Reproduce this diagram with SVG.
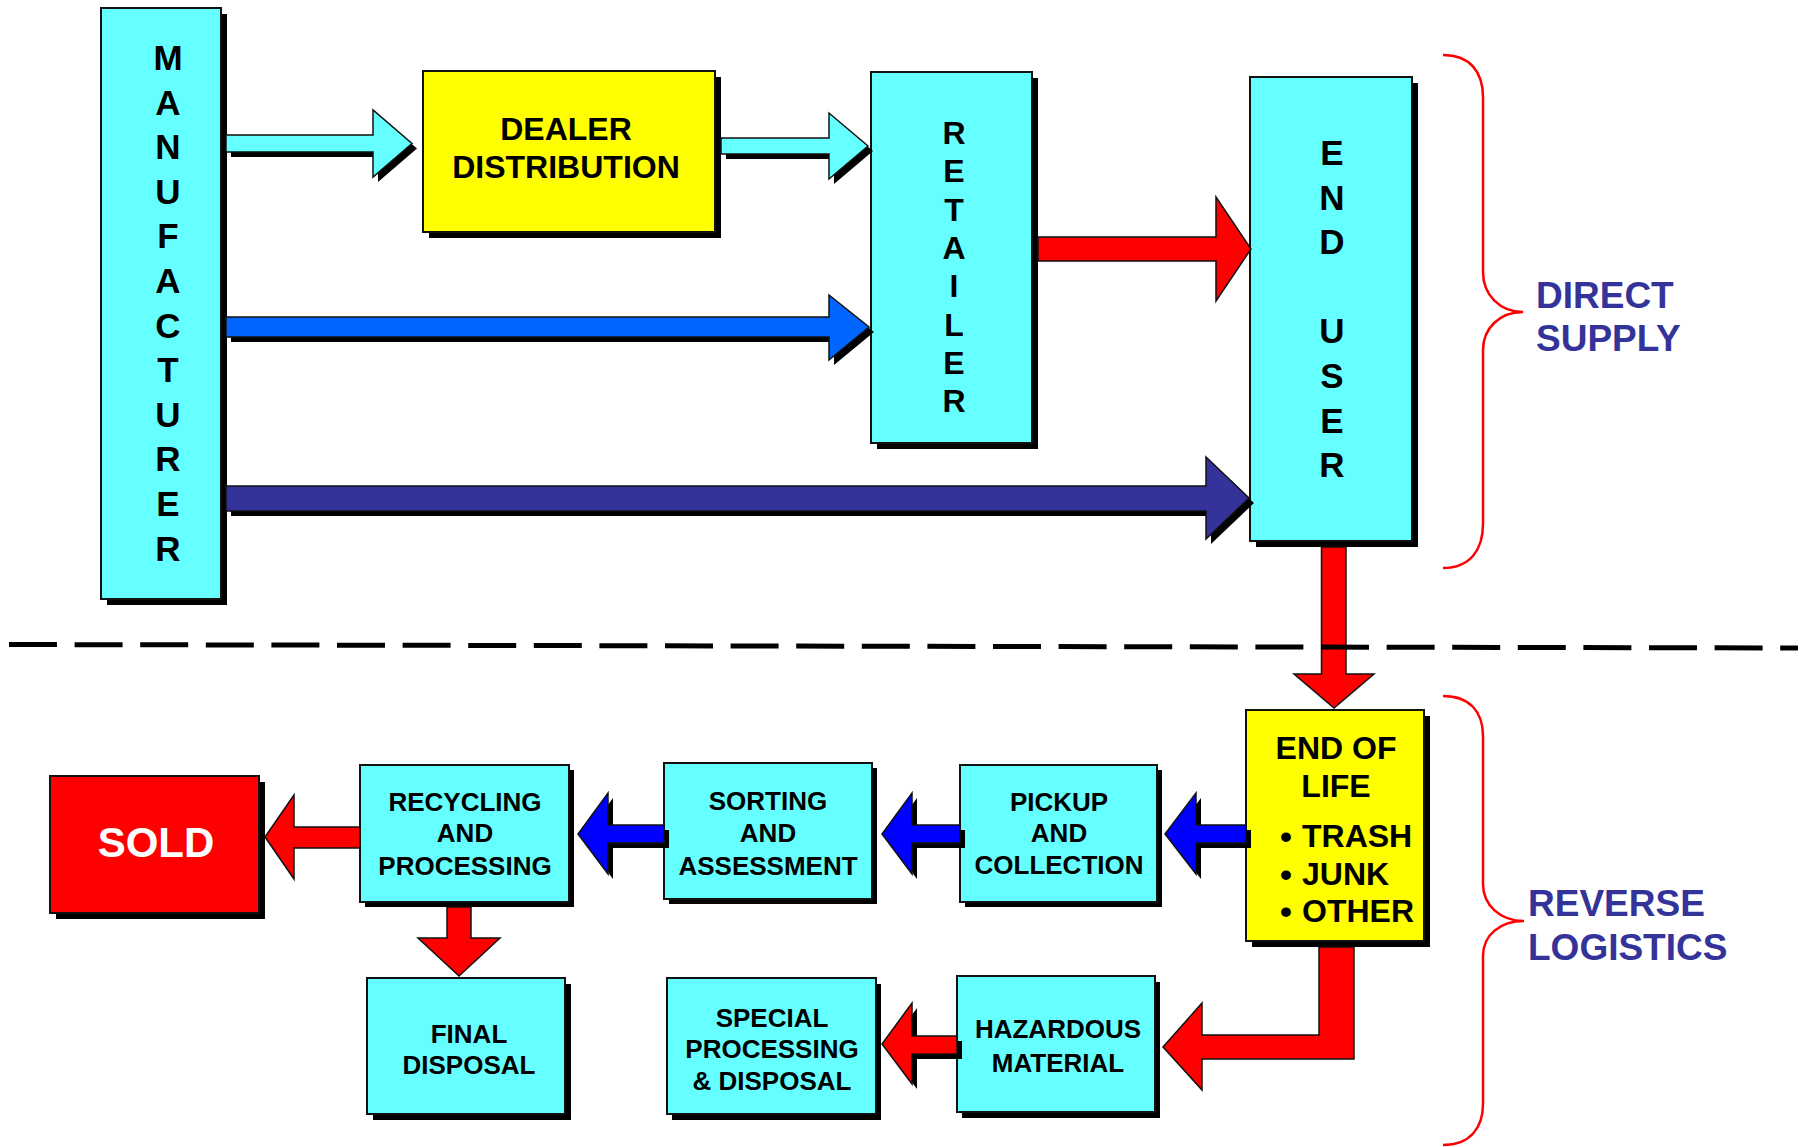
<svg xmlns="http://www.w3.org/2000/svg" xmlns:xlink="http://www.w3.org/1999/xlink" width="1805" height="1147" viewBox="0 0 1805 1147">
<style>
.box{stroke:#111;stroke-width:2}
.cy{fill:#66FFFF}
.ye{fill:#FFFF00}
.rd{fill:#FF0000}
.sh{fill:#000}
.t{font-family:"Liberation Sans",Arial,Helvetica,sans-serif;font-weight:bold;fill:#000}
.big{font-size:35px}
.m32{font-size:32px}
.m26{font-size:26px}
.lab{font-family:"Liberation Sans",Arial,Helvetica,sans-serif;font-weight:bold;font-size:37px;fill:#333399}
.arw{stroke:#111;stroke-width:1.5;stroke-linejoin:miter}
.brace{fill:none;stroke:#FF0000;stroke-width:2.5}
</style>
<defs>
<polygon id="a1" points="226,135 373,135 373,110 412,143.5 373,177 373,152 226,152"/>
<polygon id="a2" points="721,138 829,138 829,113 868,146 829,179 829,154 721,154"/>
<polygon id="a3" points="226,317 829,317 829,295 869,327 829,360 829,337 226,337"/>
<polygon id="a4" points="226,486 1206,486 1206,457 1249,498 1206,539 1206,511 226,511"/>
<polygon id="a7" points="1246,825 1196,825 1196,793 1165,834 1196,874 1196,843 1246,843"/>
<polygon id="a8" points="960,825 912,825 912,793 882,834 912,874 912,843 960,843"/>
<polygon id="a9" points="664,825 608,825 608,793 578,834 608,874 608,843 664,843"/>
<polygon id="a12" points="957,1036 912,1036 912,1003 882,1044 912,1084 912,1054 957,1054"/>
</defs>

<g id="node-manufacturer">
<rect class="sh" x="107" y="14" width="120" height="591"/>
<rect class="box cy" x="101" y="8" width="120" height="591"/>
<text class="t big" text-anchor="middle">
<tspan x="168" y="70">M</tspan><tspan x="168" y="114.6">A</tspan><tspan x="168" y="159.2">N</tspan><tspan x="168" y="203.8">U</tspan><tspan x="168" y="248.4">F</tspan><tspan x="168" y="293">A</tspan><tspan x="168" y="337.6">C</tspan><tspan x="168" y="382.2">T</tspan><tspan x="168" y="426.8">U</tspan><tspan x="168" y="471.4">R</tspan><tspan x="168" y="516">E</tspan><tspan x="168" y="560.6">R</tspan>
</text>
</g>

<g id="node-dealer">
<rect class="sh" x="429" y="77" width="292" height="161"/>
<rect class="box ye" x="423" y="71" width="292" height="161"/>
<text class="t m32" text-anchor="middle"><tspan x="566" y="140">DEALER</tspan><tspan x="566" y="178">DISTRIBUTION</tspan></text>
</g>

<g id="node-retailer">
<rect class="sh" x="877" y="78" width="161" height="371"/>
<rect class="box cy" x="871" y="72" width="161" height="371"/>
<text class="t m32" text-anchor="middle">
<tspan x="954" y="144">R</tspan><tspan x="954" y="182.3">E</tspan><tspan x="954" y="220.6">T</tspan><tspan x="954" y="258.9">A</tspan><tspan x="954" y="297.2">I</tspan><tspan x="954" y="335.5">L</tspan><tspan x="954" y="373.8">E</tspan><tspan x="954" y="412.1">R</tspan>
</text>
</g>

<g id="node-enduser">
<rect class="sh" x="1256" y="83" width="162" height="464"/>
<rect class="box cy" x="1250" y="77" width="162" height="464"/>
<text class="t big" text-anchor="middle">
<tspan x="1332" y="165">E</tspan><tspan x="1332" y="209.6">N</tspan><tspan x="1332" y="254.2">D</tspan><tspan x="1332" y="343.4">U</tspan><tspan x="1332" y="388">S</tspan><tspan x="1332" y="432.6">E</tspan><tspan x="1332" y="477.2">R</tspan>
</text>
</g>

<g id="node-endoflife">
<rect class="sh" x="1252" y="716" width="178" height="231"/>
<rect class="box ye" x="1246" y="710" width="178" height="231"/>
<text class="t m32" text-anchor="middle"><tspan x="1336" y="759">END OF</tspan><tspan x="1336" y="797">LIFE</tspan></text>
<text class="t m32"><tspan x="1280" y="848" font-size="34">•</tspan><tspan x="1302" y="847">TRASH</tspan></text>
<text class="t m32"><tspan x="1280" y="886" font-size="34">•</tspan><tspan x="1302" y="885">JUNK</tspan></text>
<text class="t m32"><tspan x="1280" y="923" font-size="34">•</tspan><tspan x="1302" y="922">OTHER</tspan></text>
</g>

<g id="node-pickup">
<rect class="sh" x="965" y="770" width="197" height="137"/>
<rect class="box cy" x="960" y="765" width="197" height="137"/>
<text class="t m26" text-anchor="middle"><tspan x="1059" y="811">PICKUP</tspan><tspan x="1059" y="842">AND</tspan><tspan x="1059" y="874">COLLECTION</tspan></text>
</g>

<g id="node-sorting">
<rect class="sh" x="669" y="768" width="208" height="136"/>
<rect class="box cy" x="664" y="763" width="208" height="136"/>
<text class="t m26" text-anchor="middle"><tspan x="768" y="810">SORTING</tspan><tspan x="768" y="842">AND</tspan><tspan x="768" y="875">ASSESSMENT</tspan></text>
</g>

<g id="node-recycling">
<rect class="sh" x="365" y="770" width="209" height="137"/>
<rect class="box cy" x="360" y="765" width="209" height="137"/>
<text class="t m26" text-anchor="middle"><tspan x="465" y="811">RECYCLING</tspan><tspan x="465" y="842">AND</tspan><tspan x="465" y="875">PROCESSING</tspan></text>
</g>

<g id="node-sold">
<rect class="sh" x="56" y="782" width="209" height="137"/>
<rect class="box rd" x="50" y="776" width="209" height="137"/>
<text class="t" text-anchor="middle" x="156" y="857" font-size="42" style="fill:#fff">SOLD</text>
</g>

<g id="node-final">
<rect class="sh" x="373" y="984" width="198" height="136"/>
<rect class="box cy" x="367" y="978" width="198" height="136"/>
<text class="t m26" text-anchor="middle"><tspan x="469" y="1043">FINAL</tspan><tspan x="469" y="1074">DISPOSAL</tspan></text>
</g>

<g id="node-special">
<rect class="sh" x="672" y="984" width="209" height="136"/>
<rect class="box cy" x="667" y="978" width="209" height="136"/>
<text class="t m26" text-anchor="middle"><tspan x="772" y="1027">SPECIAL</tspan><tspan x="772" y="1058">PROCESSING</tspan><tspan x="772" y="1090">&amp; DISPOSAL</tspan></text>
</g>

<g id="node-hazardous">
<rect class="sh" x="962" y="982" width="198" height="136"/>
<rect class="box cy" x="957" y="976" width="198" height="136"/>
<text class="t m26" text-anchor="middle"><tspan x="1058" y="1038">HAZARDOUS</tspan><tspan x="1058" y="1072">MATERIAL</tspan></text>
</g>

<g id="connectors">
<use xlink:href="#a1" href="#a1" x="5" y="5" fill="#000"/>
<use xlink:href="#a1" href="#a1" class="arw" fill="#66FFFF"/>
<use xlink:href="#a2" href="#a2" x="5" y="5" fill="#000"/>
<use xlink:href="#a2" href="#a2" class="arw" fill="#66FFFF"/>
<use xlink:href="#a3" href="#a3" x="5" y="5" fill="#000"/>
<use xlink:href="#a3" href="#a3" class="arw" fill="#0066FF"/>
<use xlink:href="#a4" href="#a4" x="5" y="5" fill="#000"/>
<use xlink:href="#a4" href="#a4" class="arw" fill="#333399"/>
<polygon class="arw" fill="#FF0000" points="1038,237 1216,237 1216,197 1251,249 1216,301 1216,261 1038,261"/>
<polygon class="arw" fill="#FF0000" points="1321.5,547 1346,547 1346,674 1374,674 1334,708 1294,674 1321.5,674"/>
<use xlink:href="#a7" href="#a7" x="5" y="5" fill="#000"/>
<use xlink:href="#a7" href="#a7" class="arw" fill="#0000FF"/>
<use xlink:href="#a8" href="#a8" x="5" y="5" fill="#000"/>
<use xlink:href="#a8" href="#a8" class="arw" fill="#0000FF"/>
<use xlink:href="#a9" href="#a9" x="5" y="5" fill="#000"/>
<use xlink:href="#a9" href="#a9" class="arw" fill="#0000FF"/>
<polygon class="arw" fill="#FF0000" points="360,827 294,827 294,795 265,837 294,879 294,848 360,848"/>
<polygon class="arw" fill="#FF0000" points="447,907 471,907 471,938 500,938 459,976 418,938 447,938"/>
<use xlink:href="#a12" href="#a12" x="5" y="5" fill="#000"/>
<use xlink:href="#a12" href="#a12" class="arw" fill="#FF0000"/>
<polygon class="arw" fill="#FF0000" points="1319,947 1354,947 1354,1059 1202,1059 1202,1090 1163,1047 1202,1003 1202,1035 1319,1035"/>
</g>

<g id="divider">
<line x1="9" y1="644.5" x2="1798" y2="648" stroke="#000" stroke-width="5" stroke-dasharray="48 17.6"/>
</g>

<g id="brace-direct">
<path class="brace" d="M1443,55 C1470,55 1483,72 1483,97 L1483,272 C1483,295 1500,312 1523,312 C1500,312 1483,328 1483,350 L1483,524 C1483,550 1470,568 1443,568"/>
<text class="lab"><tspan x="1536" y="308">DIRECT</tspan><tspan x="1536" y="351">SUPPLY</tspan></text>
</g>

<g id="brace-reverse">
<path class="brace" d="M1443,696 C1470,696 1483,712 1483,736 L1483,884 C1483,905 1500,921 1524,921 C1500,921 1483,935 1483,956 L1483,1104 C1483,1128 1470,1145 1443,1145"/>
<text class="lab"><tspan x="1528" y="916">REVERSE</tspan><tspan x="1528" y="960">LOGISTICS</tspan></text>
</g>
</svg>
